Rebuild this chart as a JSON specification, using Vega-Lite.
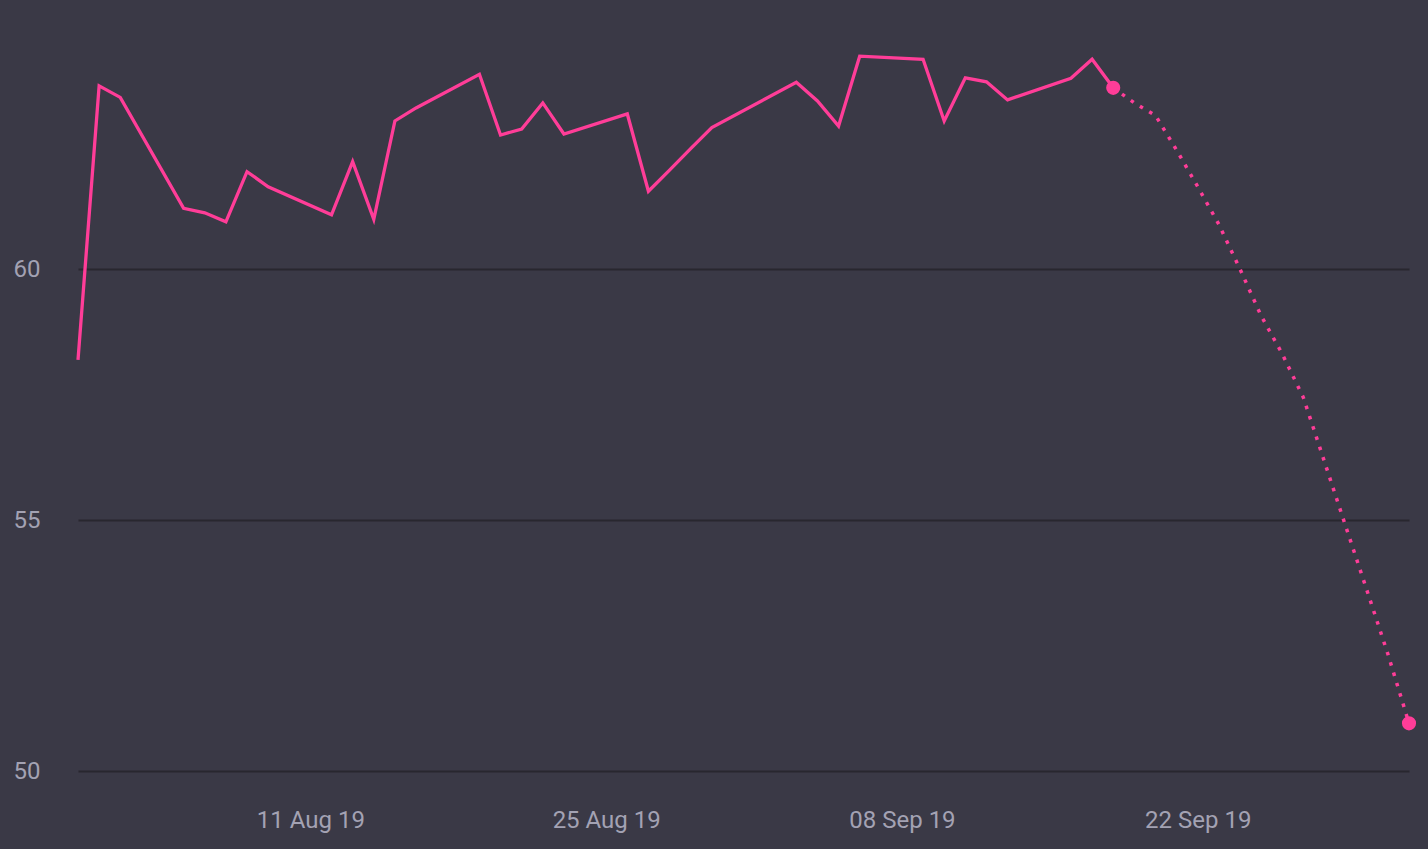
{
  "$schema": "https://vega.github.io/schema/vega-lite/v6.json",
  "width": 1331,
  "height": 771,
  "autosize": {"type": "none"},
  "padding": {"left": 78, "top": 0, "right": 19, "bottom": 78},
  "background": "#3a3946",
  "config": {
    "view": {"stroke": null},
    "axis": {
      "labelFont": "Roboto",
      "labelFontSize": 24,
      "labelFontWeight": 400,
      "labelColor": "#a3a2b3",
      "domain": false,
      "ticks": false,
      "title": null
    }
  },
  "datasets": {
    "prices": [
      {"date": "2019-07-31", "value": 58.19, "series": "actual"},
      {"date": "2019-08-01", "value": 63.65, "series": "actual"},
      {"date": "2019-08-02", "value": 63.42, "series": "actual"},
      {"date": "2019-08-05", "value": 61.21, "series": "actual"},
      {"date": "2019-08-06", "value": 61.12, "series": "actual"},
      {"date": "2019-08-07", "value": 60.94, "series": "actual"},
      {"date": "2019-08-08", "value": 61.94, "series": "actual"},
      {"date": "2019-08-09", "value": 61.64, "series": "actual"},
      {"date": "2019-08-12", "value": 61.08, "series": "actual"},
      {"date": "2019-08-13", "value": 62.14, "series": "actual"},
      {"date": "2019-08-14", "value": 60.99, "series": "actual"},
      {"date": "2019-08-15", "value": 62.95, "series": "actual"},
      {"date": "2019-08-16", "value": 63.21, "series": "actual"},
      {"date": "2019-08-19", "value": 63.88, "series": "actual"},
      {"date": "2019-08-20", "value": 62.67, "series": "actual"},
      {"date": "2019-08-21", "value": 62.79, "series": "actual"},
      {"date": "2019-08-22", "value": 63.31, "series": "actual"},
      {"date": "2019-08-23", "value": 62.69, "series": "actual"},
      {"date": "2019-08-26", "value": 63.09, "series": "actual"},
      {"date": "2019-08-27", "value": 61.55, "series": "actual"},
      {"date": "2019-08-28", "value": 61.97, "series": "actual"},
      {"date": "2019-08-29", "value": 62.40, "series": "actual"},
      {"date": "2019-08-30", "value": 62.82, "series": "actual"},
      {"date": "2019-09-03", "value": 63.72, "series": "actual"},
      {"date": "2019-09-04", "value": 63.35, "series": "actual"},
      {"date": "2019-09-05", "value": 62.85, "series": "actual"},
      {"date": "2019-09-06", "value": 64.24, "series": "actual"},
      {"date": "2019-09-09", "value": 64.18, "series": "actual"},
      {"date": "2019-09-10", "value": 62.95, "series": "actual"},
      {"date": "2019-09-11", "value": 63.81, "series": "actual"},
      {"date": "2019-09-12", "value": 63.73, "series": "actual"},
      {"date": "2019-09-13", "value": 63.37, "series": "actual"},
      {"date": "2019-09-16", "value": 63.80, "series": "actual"},
      {"date": "2019-09-17", "value": 64.18, "series": "actual"},
      {"date": "2019-09-18", "value": 63.61, "series": "actual"},
      {"date": "2019-09-18", "value": 63.61, "series": "forecast"},
      {"date": "2019-09-19", "value": 63.31, "series": "forecast"},
      {"date": "2019-09-20", "value": 63.06, "series": "forecast"},
      {"date": "2019-09-21", "value": 62.37, "series": "forecast"},
      {"date": "2019-09-22", "value": 61.64, "series": "forecast"},
      {"date": "2019-09-23", "value": 60.89, "series": "forecast"},
      {"date": "2019-09-24", "value": 60.00, "series": "forecast"},
      {"date": "2019-09-25", "value": 59.07, "series": "forecast"},
      {"date": "2019-09-26", "value": 58.31, "series": "forecast"},
      {"date": "2019-09-27", "value": 57.44, "series": "forecast"},
      {"date": "2019-09-28", "value": 56.16, "series": "forecast"},
      {"date": "2019-09-29", "value": 54.88, "series": "forecast"},
      {"date": "2019-09-30", "value": 53.61, "series": "forecast"},
      {"date": "2019-10-01", "value": 52.33, "series": "forecast"},
      {"date": "2019-10-02", "value": 50.95, "series": "forecast"}
    ]
  },
  "data": {"name": "prices"},
  "encoding": {
    "x": {
      "field": "date",
      "type": "temporal",
      "scale": {
        "type": "utc",
        "domain": [
          {"year": 2019, "month": 7, "date": 31, "utc": true},
          {"year": 2019, "month": 10, "date": 2, "utc": true}
        ]
      },
      "axis": {
        "grid": false,
        "labelPadding": 37,
        "labelExpr": "utcFormat(datum.value, '%d %b %y')",
        "values": [
          {"year": 2019, "month": 8, "date": 11, "utc": true},
          {"year": 2019, "month": 8, "date": 25, "utc": true},
          {"year": 2019, "month": 9, "date": 8, "utc": true},
          {"year": 2019, "month": 9, "date": 22, "utc": true}
        ]
      }
    },
    "y": {
      "field": "value",
      "type": "quantitative",
      "scale": {"domain": [50, 65.36], "nice": false, "zero": false},
      "axis": {
        "values": [50, 55, 60],
        "grid": true,
        "gridColor": "#28272f",
        "gridWidth": 2,
        "labelAlign": "right",
        "labelPadding": 38
      }
    }
  },
  "layer": [
    {
      "transform": [{"filter": "datum.series === 'actual'"}],
      "mark": {"type": "line", "color": "#ff3d98", "strokeWidth": 3.3},
      "encoding": {}
    },
    {
      "transform": [{"filter": "datum.series === 'forecast'"}],
      "mark": {"type": "line", "color": "#ff3d98", "strokeWidth": 3.5, "strokeDash": [3.5, 7.3], "strokeCap": "butt"},
      "encoding": {}
    },
    {
      "transform": [
        {"filter": "datum.series === 'forecast' && (time(datum.date) === utc(2019, 8, 18) || time(datum.date) === utc(2019, 9, 2))"}
      ],
      "mark": {"type": "circle", "opacity": 1, "color": "#ff3d98", "size": 200},
      "encoding": {}
    }
  ]
}
